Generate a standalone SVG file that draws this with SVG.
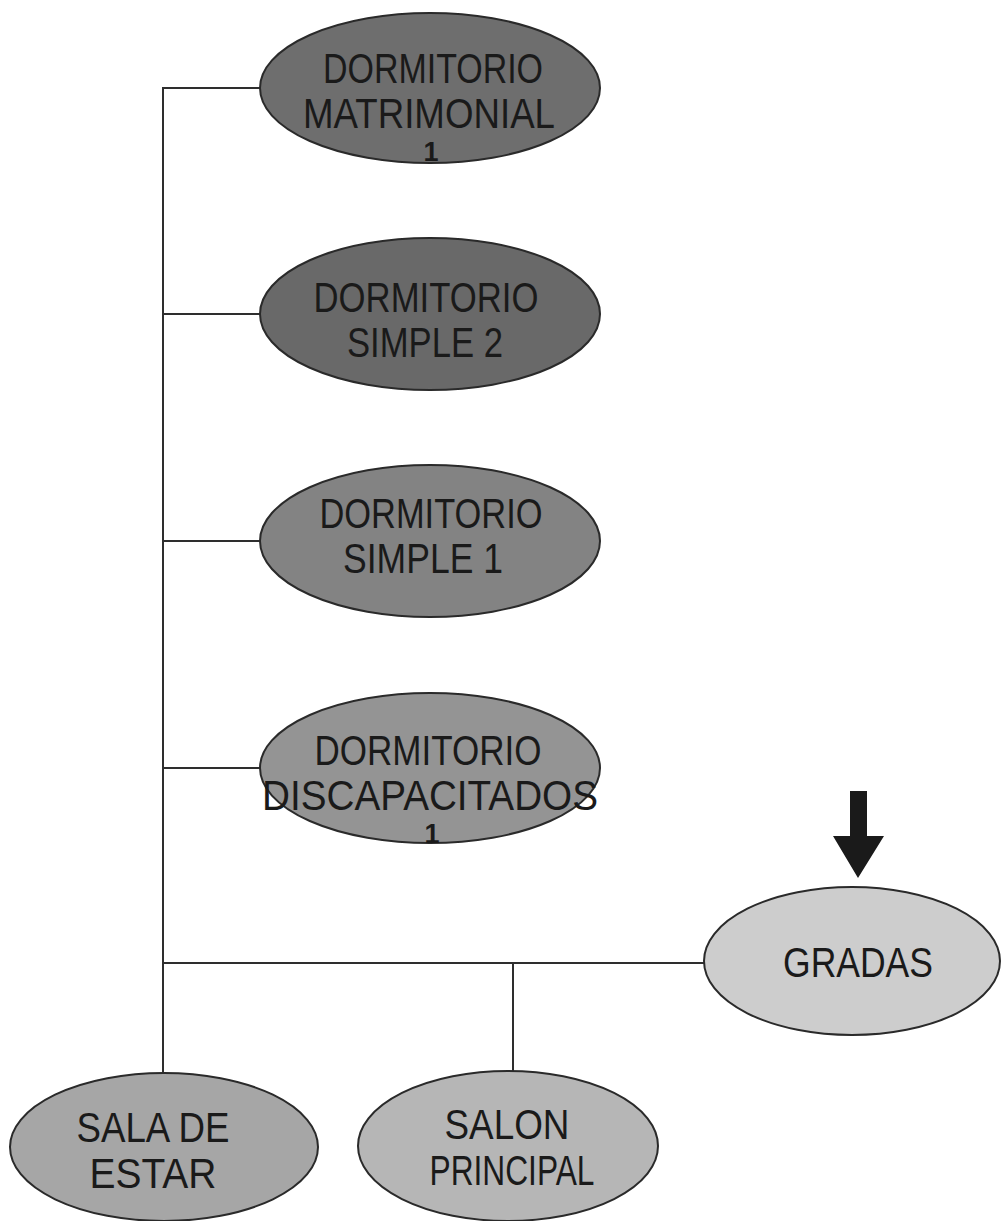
<svg xmlns="http://www.w3.org/2000/svg" width="1003" height="1221" viewBox="0 0 1003 1221">
<style>
.node ellipse{stroke:#2a2a2a;stroke-width:2}
.lbl{font-family:"Liberation Sans",Arial,sans-serif;font-size:42px;fill:#1a1a1a;text-anchor:middle}
.small{font-size:27px;font-weight:bold}
.conn line{stroke:#2e2e2e;stroke-width:2}
</style>
<rect width="1003" height="1221" fill="#ffffff"/>
<g id="connectors" class="conn">
<line x1="163" y1="87" x2="163" y2="1073"/>
<line x1="163" y1="88" x2="261" y2="88"/>
<line x1="163" y1="314" x2="261" y2="314"/>
<line x1="163" y1="541" x2="261" y2="541"/>
<line x1="163" y1="768" x2="261" y2="768"/>
<line x1="163" y1="963" x2="705" y2="963"/>
<line x1="513" y1="963" x2="513" y2="1071"/>
</g>
<g id="n1" class="node">
<ellipse cx="430" cy="88" rx="170" ry="75" fill="#6e6e6e"/>
<text class="lbl" x="433" y="83" textLength="220" lengthAdjust="spacingAndGlyphs">DORMITORIO</text>
<text class="lbl" x="429" y="128" textLength="252" lengthAdjust="spacingAndGlyphs">MATRIMONIAL</text>
<text class="lbl small" x="431" y="161">1</text>
</g>
<g id="n2" class="node">
<ellipse cx="430" cy="314" rx="170" ry="76" fill="#696969"/>
<text class="lbl" x="426" y="312" textLength="225" lengthAdjust="spacingAndGlyphs">DORMITORIO</text>
<text class="lbl" x="425" y="357" textLength="156" lengthAdjust="spacingAndGlyphs">SIMPLE 2</text>
</g>
<g id="n3" class="node">
<ellipse cx="430" cy="541" rx="170" ry="76" fill="#838383"/>
<text class="lbl" x="431" y="528" textLength="223" lengthAdjust="spacingAndGlyphs">DORMITORIO</text>
<text class="lbl" x="423" y="573" textLength="160" lengthAdjust="spacingAndGlyphs">SIMPLE 1</text>
</g>
<g id="n4" class="node">
<ellipse cx="430" cy="768" rx="170" ry="75" fill="#949494"/>
<text class="lbl" x="428" y="765" textLength="227" lengthAdjust="spacingAndGlyphs">DORMITORIO</text>
<text class="lbl" x="430" y="810" textLength="336" lengthAdjust="spacingAndGlyphs">DISCAPACITADOS</text>
<text class="lbl small" x="432" y="843">1</text>
</g>
<g id="n5" class="node">
<ellipse cx="852" cy="961" rx="148" ry="74" fill="#cdcdcd"/>
<text class="lbl" x="858" y="977" textLength="150" lengthAdjust="spacingAndGlyphs">GRADAS</text>
</g>
<g id="n6" class="node">
<ellipse cx="164" cy="1147" rx="154" ry="74" fill="#a6a6a6"/>
<text class="lbl" x="153" y="1142" textLength="153" lengthAdjust="spacingAndGlyphs">SALA DE</text>
<text class="lbl" x="153" y="1188" textLength="127" lengthAdjust="spacingAndGlyphs">ESTAR</text>
</g>
<g id="n7" class="node">
<ellipse cx="508" cy="1146" rx="150" ry="75" fill="#b6b6b6"/>
<text class="lbl" x="507" y="1139" textLength="125" lengthAdjust="spacingAndGlyphs">SALON</text>
<text class="lbl" x="512" y="1185" textLength="165" lengthAdjust="spacingAndGlyphs">PRINCIPAL</text>
</g>
<g id="arrow">
<polygon points="850,791 867,791 867,836 884,836 858,878 833,836 850,836" fill="#1a1a1a"/>
</g>
</svg>
